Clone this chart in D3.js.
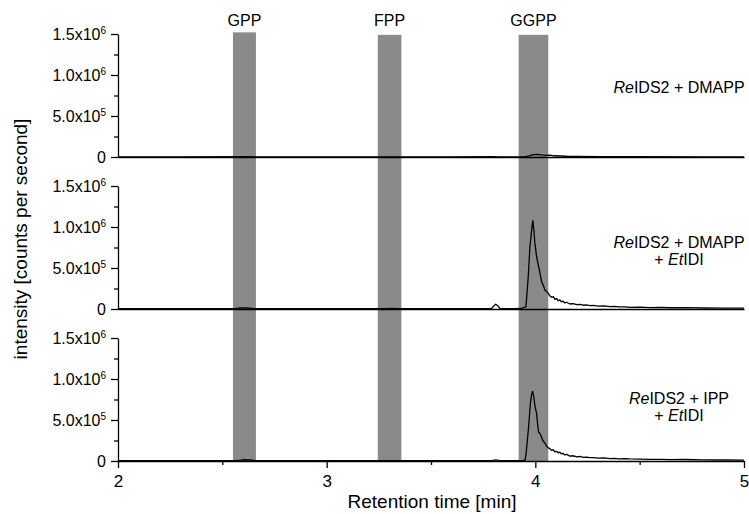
<!DOCTYPE html>
<html>
<head>
<meta charset="utf-8">
<script src="https://cdn.jsdelivr.net/npm/d3@7"></script>
<style>
  body { margin: 0; background: #fff; }
  svg { font-family: "Liberation Sans", Arial, sans-serif; }
</style>
</head>
<body>
<div id="chart"></div>
<script>
// retention window markers (min)
const bandLabels = ['GPP', 'FPP', 'GGPP'];
const bandStart = [2.551, 3.245, 3.92];
const bandEnd = [2.661, 3.358, 4.062];
const bandTop = [1.52e6, 1.49e6, 1.49e6];

// panel labels, top to bottom
const panelLabels = [
    [['Re', 'IDS2 + DMAPP']],
    [['Re', 'IDS2 + DMAPP'], ['+ ', 'Et', 'IDI']],
    [['Re', 'IDS2 + IPP'], ['+ ', 'Et', 'IDI']]
];

const xTicks = [2, 3, 4, 5];
const xMinor = [2.5, 3.5, 4.5];
const yTicks = [0, 5e5, 1e6, 1.5e6];
const yTickLabels = [['0', ''], ['5.0x10', '5'], ['1.0x10', '6'], ['1.5x10', '6']];
const yMinor = [2.5e5, 7.5e5, 1.25e6];

// traces: [time (min), counts per second]
const traceDmapp = [
    [2.00, 2000], [2.30, 1500], [2.58, 3000], [2.62, 4000], [2.66, 2000], [3.00, 1500],
    [3.30, 2000], [3.60, 1500], [3.80, 3000], [3.82, 1500], [3.95, 2000], [3.97, 15000],
    [3.99, 30000], [4.01, 33000], [4.03, 25000], [4.05, 20000], [4.07, 22000], [4.09, 15000],
    [4.12, 12000], [4.15, 9000], [4.20, 7000], [4.30, 5000], [4.50, 3500], [4.80, 2500],
    [5.00, 2000]
];
const traceDmappIdi = [
    [2.00, 3000], [2.30, 3000], [2.56, 4000], [2.59, 12000], [2.62, 14000], [2.65, 5000],
    [3.00, 3000], [3.28, 4000], [3.31, 6000], [3.34, 3000], [3.70, 3000], [3.79, 6000],
    [3.80, 35000], [3.81, 58000], [3.82, 40000], [3.83, 8000], [3.90, 3000], [3.934, 6000],
    [3.955, 28000], [3.966, 394000], [3.974, 760000], [3.984, 1000000], [3.988, 1077000],
    [3.993, 960000], [3.998, 800000], [4.006, 640000], [4.012, 560000], [4.019, 480000],
    [4.030, 333000], [4.038, 290000], [4.046, 230000], [4.054, 215000], [4.062, 190000],
    [4.070, 160000], [4.078, 143000], [4.086, 150000], [4.094, 118000], [4.102, 128000],
    [4.110, 100000], [4.118, 112000], [4.125, 88000], [4.133, 96000], [4.140, 76000],
    [4.150, 82000], [4.166, 61000], [4.18, 66000], [4.20, 53000], [4.215, 57000],
    [4.23, 46000], [4.245, 49000], [4.262, 41000], [4.28, 43000], [4.30, 35000],
    [4.33, 37000], [4.357, 28000], [4.38, 31000], [4.40, 25000], [4.43, 27000],
    [4.453, 20000], [4.50, 22000], [4.55, 17000], [4.60, 18000], [4.65, 15000],
    [4.72, 16000], [4.80, 12000], [4.90, 11000], [5.00, 10000]
];
const traceIppIdi = [
    [2.00, 3000], [2.30, 3000], [2.57, 5000], [2.60, 15000], [2.63, 12000], [2.66, 4000],
    [3.00, 3000], [3.30, 3000], [3.70, 3000], [3.79, 5000], [3.81, 14000], [3.83, 5000],
    [3.94, 4000], [3.95, 9000], [3.955, 70000], [3.968, 420000], [3.976, 700000],
    [3.982, 810000], [3.987, 850000], [3.992, 790000], [3.999, 660000], [4.006, 580000],
    [4.012, 420000], [4.016, 350000], [4.024, 330000], [4.030, 285000], [4.038, 240000],
    [4.046, 220000], [4.054, 180000], [4.062, 160000], [4.070, 150000], [4.078, 130000],
    [4.086, 138000], [4.094, 112000], [4.102, 118000], [4.110, 100000], [4.118, 108000],
    [4.125, 88000], [4.133, 94000], [4.140, 75000], [4.150, 80000], [4.166, 60000],
    [4.18, 64000], [4.20, 51000], [4.215, 55000], [4.23, 45000], [4.245, 47000],
    [4.262, 40000], [4.28, 42000], [4.30, 35000], [4.33, 37000], [4.357, 30000],
    [4.38, 32000], [4.40, 27000], [4.43, 29000], [4.453, 25000], [4.50, 23000],
    [4.55, 20000], [4.60, 21000], [4.65, 17000], [4.72, 18000], [4.80, 14000],
    [4.90, 12000], [5.00, 11000]
];
const traces = [traceDmapp, traceDmappIdi, traceIppIdi];

const width = 749, height = 514;
const left = 118, right = 744;
const panelZero = [157, 309, 461];
const panelHeight = 123;
const labelOffset = [64, 61, 57];

const svg = d3.select('#chart').append('svg')
    .attr('width', width)
    .attr('height', height);

const x = d3.scaleLinear().domain([2, 5]).range([left, right]);
const yScales = panelZero.map(z => d3.scaleLinear().domain([0, 1.5e6]).range([z, z - panelHeight]));

// grey windows through all panels
const bars = svg.append('g').attr('class', 'bands');
bandLabels.forEach((lab, i) => {
    const yTop = yScales[0](bandTop[i]);
    bars.append('rect')
        .attr('x', x(bandStart[i]))
        .attr('y', yTop)
        .attr('width', x(bandEnd[i]) - x(bandStart[i]))
        .attr('height', panelZero[2] - yTop)
        .attr('fill', '#8a8a8a');
    bars.append('text')
        .attr('x', (x(bandStart[i]) + x(bandEnd[i])) / 2)
        .attr('y', 26)
        .attr('text-anchor', 'middle')
        .attr('font-size', 16)
        .text(lab);
});

yScales.forEach((y, p) => {
    const g = svg.append('g').attr('class', 'panel');

    // y axis, major + minor ticks
    const yAxis = g.append('g')
        .attr('transform', `translate(${left},0)`)
        .call(d3.axisLeft(y).tickValues(yTicks).tickSize(7).tickSizeOuter(0).tickFormat(''));
    g.append('g')
        .attr('transform', `translate(${left},0)`)
        .call(d3.axisLeft(y).tickValues(yMinor).tickSize(4).tickSizeOuter(0).tickFormat(''))
        .select('.domain').remove();

    yAxis.selectAll('.tick').each(function(d, i) {
        const t = d3.select(this).append('text')
            .attr('x', -12)
            .attr('dy', '0.36em')
            .attr('text-anchor', 'end')
            .attr('fill', '#000')
            .attr('font-size', 16);
        t.append('tspan').text(yTickLabels[i][0]);
        if (yTickLabels[i][1]) {
            t.append('tspan')
                .attr('dy', '-0.65em')
                .attr('font-size', 10)
                .text(yTickLabels[i][1]);
        }
    });

    // x axis line (ticks only on the bottom panel)
    if (p === 2) {
        g.append('g')
            .attr('transform', `translate(0,${panelZero[p]})`)
            .call(d3.axisBottom(x).tickValues(xTicks).tickSize(7).tickSizeOuter(0).tickPadding(7).tickFormat(d3.format('d')))
            .selectAll('text').attr('font-size', 17).attr('fill', '#000');
        g.append('g')
            .attr('transform', `translate(0,${panelZero[p]})`)
            .call(d3.axisBottom(x).tickValues(xMinor).tickSize(4).tickSizeOuter(0).tickFormat(''))
            .select('.domain').remove();
    } else {
        g.append('g')
            .attr('transform', `translate(0,${panelZero[p]})`)
            .call(d3.axisBottom(x).tickValues([]).tickSizeOuter(0));
    }

    // trace
    g.append('path')
        .datum(traces[p])
        .attr('fill', 'none')
        .attr('stroke', '#000')
        .attr('stroke-width', 1.3)
        .attr('stroke-linejoin', 'round')
        .attr('d', d3.line().x(d => x(d[0])).y(d => y(d[1])));

    // sample label
    panelLabels[p].forEach((parts, li) => {
        const t = g.append('text')
            .attr('x', 679)
            .attr('y', panelZero[p] - labelOffset[p] + li * 17)
            .attr('text-anchor', 'middle')
            .attr('font-size', 16);
        parts.forEach(s => {
            t.append('tspan')
                .attr('font-style', (s === 'Re' || s === 'Et') ? 'italic' : 'normal')
                .text(s);
        });
    });
});

svg.selectAll('.domain, .tick line')
    .attr('stroke', '#000')
    .attr('stroke-width', 1.3);

// axis titles
svg.append('text')
    .attr('transform', 'translate(27,239) rotate(-90)')
    .attr('text-anchor', 'middle')
    .attr('font-size', 19)
    .text('intensity [counts per second]');

svg.append('text')
    .attr('x', 432)
    .attr('y', 508)
    .attr('text-anchor', 'middle')
    .attr('font-size', 19)
    .text('Retention time [min]');
</script>
</body>
</html>
